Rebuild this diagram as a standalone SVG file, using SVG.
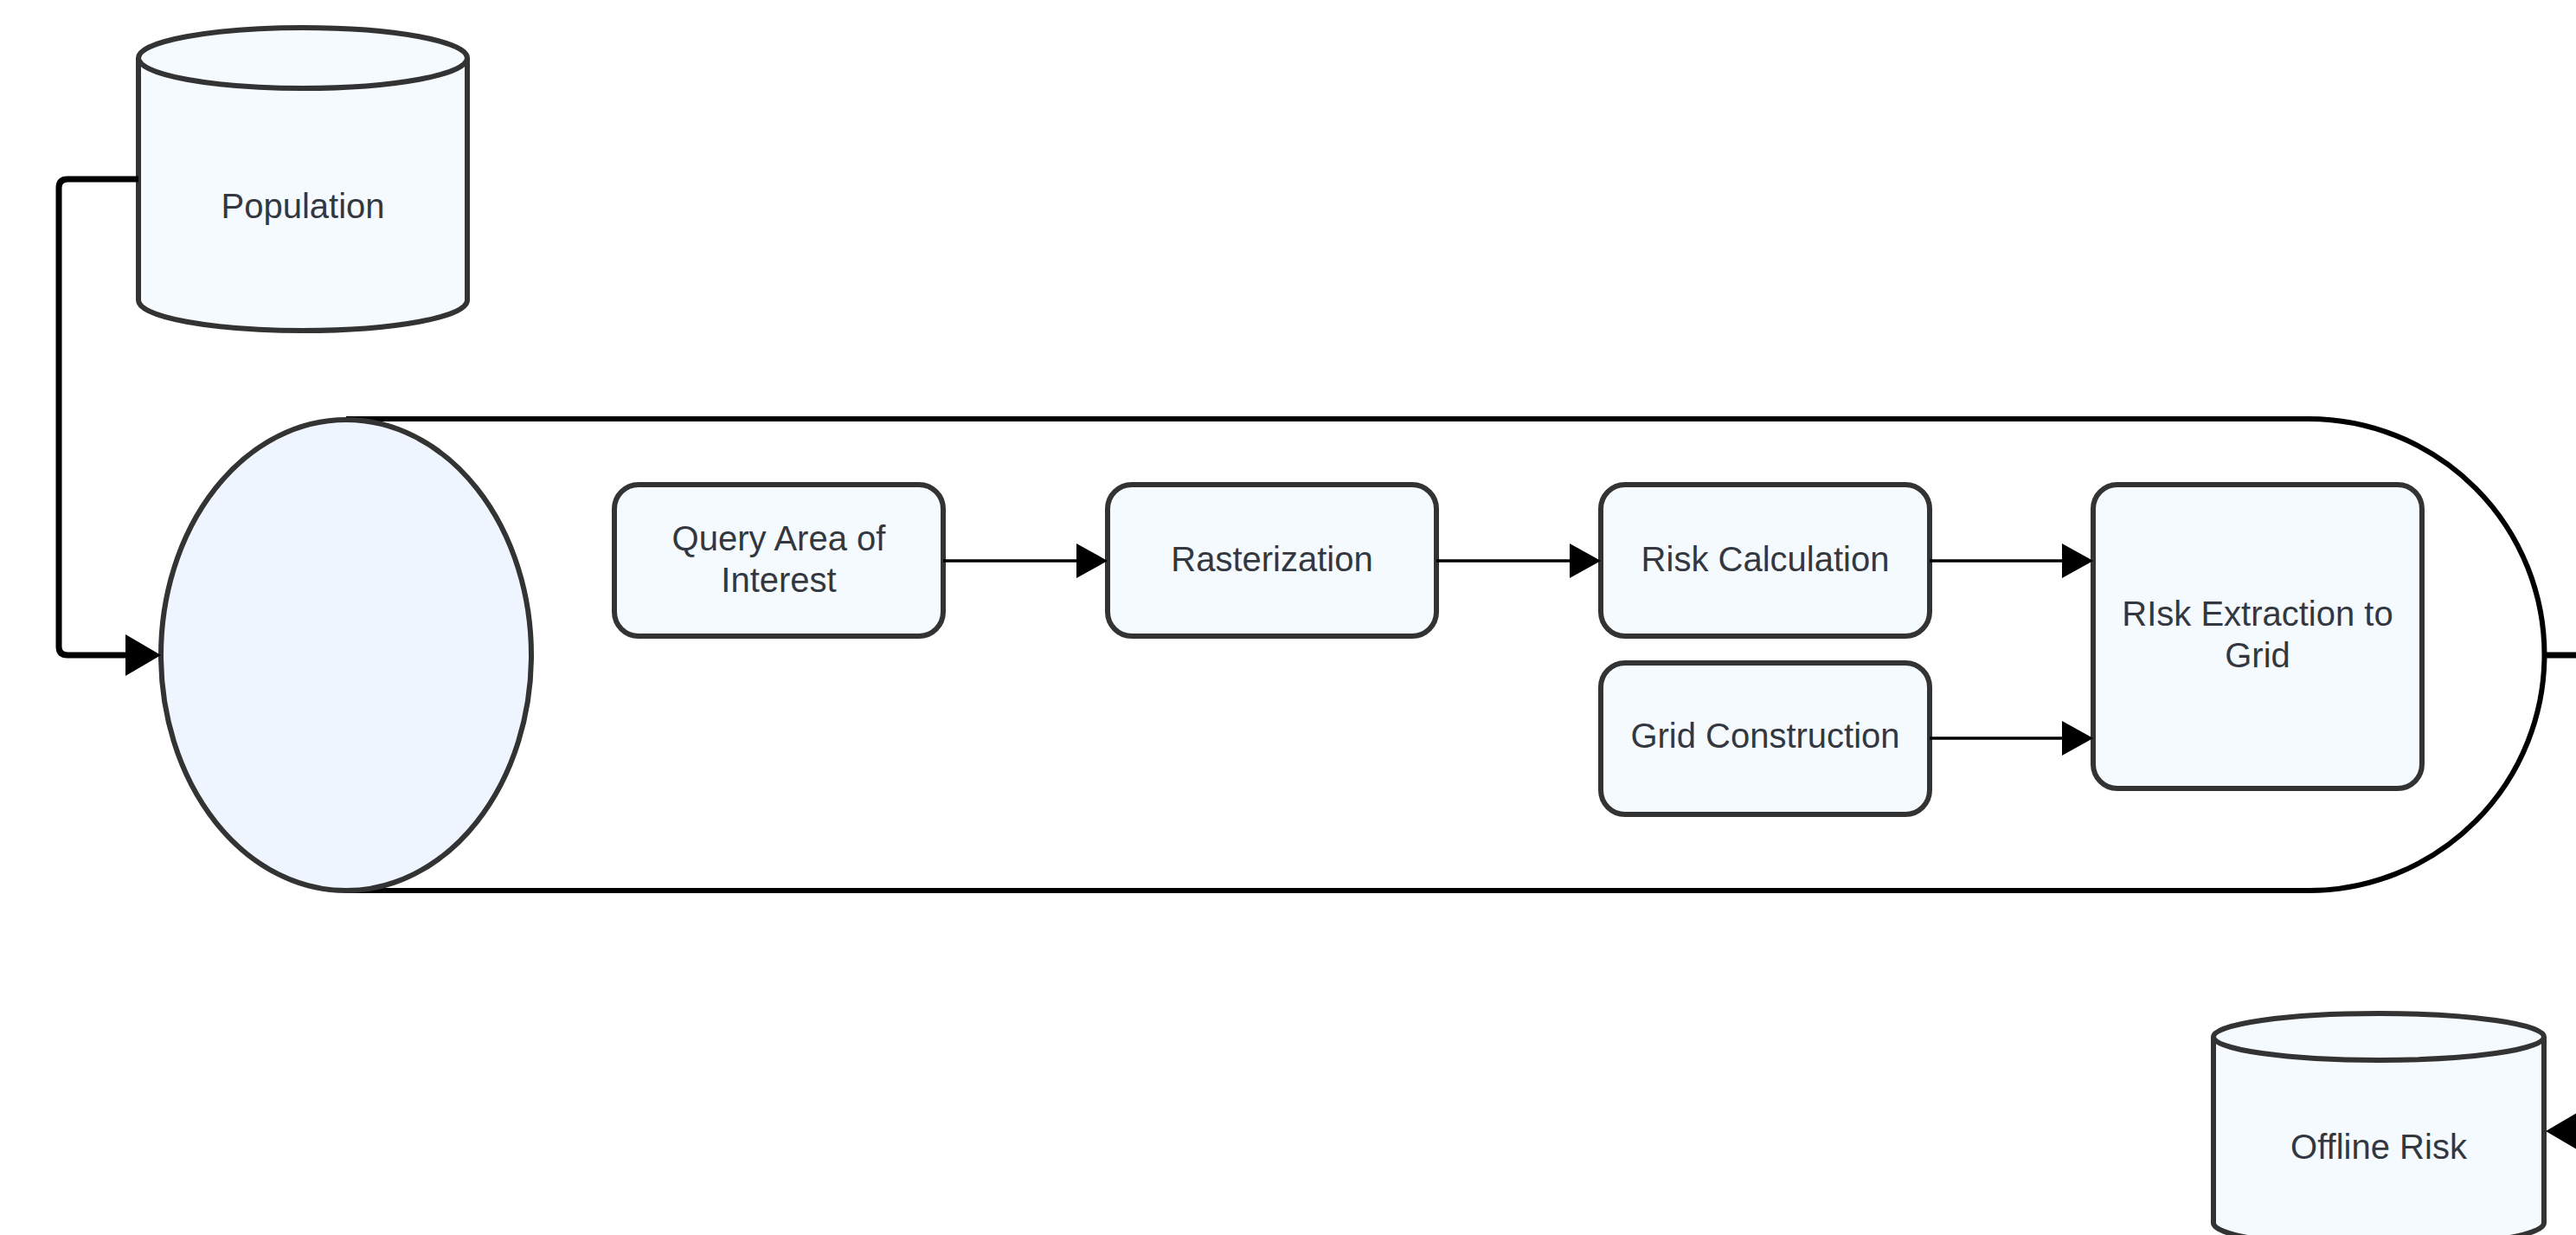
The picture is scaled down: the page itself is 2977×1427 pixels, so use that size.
<svg xmlns="http://www.w3.org/2000/svg" width="2977" height="1427" viewBox="0 0 2977 1427">
<defs>
<style>
.box{fill:#F5FAFF;stroke:#333333;stroke-width:6}
.db{fill:#F5FAFF;stroke:#333333;stroke-width:6}
.lbl{font-family:"Liberation Sans",Arial,sans-serif;font-size:40px;fill:#333840;text-anchor:middle}
.thin{fill:none;stroke:#000000;stroke-width:3.5}
.thick{fill:none;stroke:#000000;stroke-width:7;stroke-linejoin:round}
.head{fill:#000000}
</style>
</defs>
<rect width="2977" height="1427" fill="#ffffff"/>

<g id="pipeline">
<path d="M400 484 H2668 A272 272 0 0 1 2668 1029 H400" fill="#ffffff" stroke="#000000" stroke-width="6"/>
<ellipse cx="400" cy="757" rx="214" ry="272" fill="#EEF5FF" stroke="#333333" stroke-width="6"/>
</g>

<g id="population">
<path class="db" d="M160 67 V347 A190 35 0 0 0 540 347 V67"/>
<ellipse class="db" cx="350" cy="67" rx="190" ry="35"/>
<text class="lbl" x="350" y="252">Population</text>
</g>

<g id="offline-risk">
<path class="db" d="M2558 1198 V1413 A191 28 0 0 0 2940 1413 V1198"/>
<ellipse class="db" cx="2749" cy="1198" rx="191" ry="27"/>
<text class="lbl" x="2749" y="1339">Offline Risk</text>
</g>

<g id="query-area">
<rect class="box" x="710" y="560" width="380" height="175" rx="28"/>
<text class="lbl" x="900" y="636">Query Area of</text>
<text class="lbl" x="900" y="684">Interest</text>
</g>

<g id="rasterization">
<rect class="box" x="1280" y="560" width="380" height="175" rx="28"/>
<text class="lbl" x="1470" y="660">Rasterization</text>
</g>

<g id="risk-calculation">
<rect class="box" x="1850" y="560" width="380" height="175" rx="28"/>
<text class="lbl" x="2040" y="660">Risk Calculation</text>
</g>

<g id="grid-construction">
<rect class="box" x="1850" y="766" width="380" height="175" rx="28"/>
<text class="lbl" x="2040" y="864">Grid Construction</text>
</g>

<g id="risk-extraction">
<rect class="box" x="2419" y="560" width="380" height="351" rx="28"/>
<text class="lbl" x="2609" y="723">RIsk Extraction to</text>
<text class="lbl" x="2609" y="771">Grid</text>
</g>

<g id="connectors">
<path class="thick" d="M160 207 H78 Q68 207 68 217 V747 Q68 757 78 757 H150"/>
<polygon class="head" points="186,757 145,733 145,781"/>

<path class="thin" d="M1090 648 H1248"/>
<polygon class="head" points="1280,648 1244,628 1244,668"/>

<path class="thin" d="M1660 648 H1818"/>
<polygon class="head" points="1850,648 1814,628 1814,668"/>

<path class="thin" d="M2230 648 H2387"/>
<polygon class="head" points="2419,648 2383,628 2383,668"/>

<path class="thin" d="M2230 853 H2387"/>
<polygon class="head" points="2419,853 2383,833 2383,873"/>

<path class="thick" d="M2940 757 H3000 V1307 H2980"/>
<polygon class="head" points="2942,1307 2983,1283 2983,1331"/>
</g>
</svg>
